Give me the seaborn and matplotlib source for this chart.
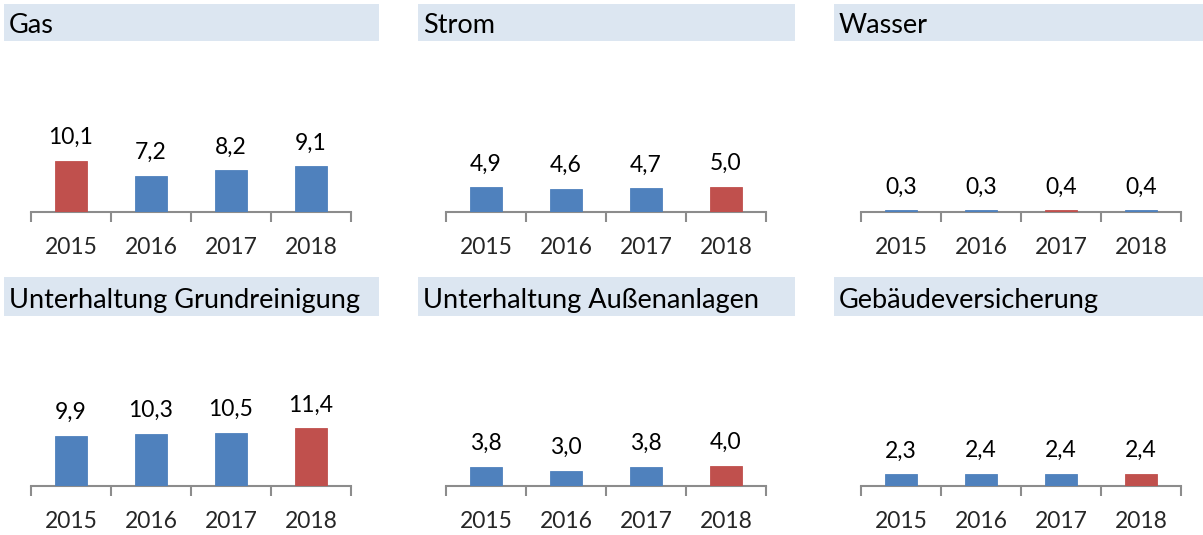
import numpy as np
import pandas as pd
import matplotlib.pyplot as plt
import seaborn as sns
from matplotlib.patches import Rectangle

# data
years = ['2015', '2016', '2017', '2018']
titles = ['Gas', 'Strom', 'Wasser',
          'Unterhaltung Grundreinigung', 'Unterhaltung Außenanlagen', 'Gebäudeversicherung']
gas = [10.1, 7.2, 8.2, 9.1]
strom = [4.9, 4.6, 4.7, 5.0]
wasser = [0.3, 0.3, 0.4, 0.4]
grundreinigung = [9.9, 10.3, 10.5, 11.4]
aussenanlagen = [3.8, 3.0, 3.8, 4.0]
versicherung = [2.3, 2.4, 2.4, 2.4]
highlight = ['2015', '2018', '2017', '2018', '2018', '2018']

series = [gas, strom, wasser, grundreinigung, aussenanlagen, versicherung]

BLUE = '#4f81bd'
RED = '#c0504d'
BAR_BG = '#dce6f1'
AXIS_GRAY = '#8c8c8c'

sns.set_style('white')
plt.rcParams['font.family'] = ['Lato', 'DejaVu Sans']

W, H = 1203, 535
fig = plt.figure(figsize=(W / 100, H / 100), dpi=100)

# pixel layout
axis_left = [31, 446, 861]
axis_width = 320
baseline = [212, 486]
axis_height = 152
title_x = [(4, 379), (418, 795), (834, 1203)]
title_y = [(4, 41), (277, 316)]
title_base = [33, 308]

for i, (title, vals, hl) in enumerate(zip(titles, series, highlight)):
    r, c = divmod(i, 3)
    ax = fig.add_axes([axis_left[c] / W, (H - baseline[r]) / H,
                       axis_width / W, axis_height / H])
    df = pd.DataFrame({'year': years, 'value': vals})
    pal = {y: (RED if y == hl else BLUE) for y in years}
    sns.barplot(data=df, x='year', y='value', hue='year', palette=pal,
                legend=False, width=0.4, saturation=1, ax=ax)
    for p in ax.patches:
        p.set_zorder(5)
        p.set_edgecolor(p.get_facecolor())
        p.set_linewidth(0.6)
    ax.set_ylim(0, 30)
    ax.set_xlim(-0.5, 3.5)
    for cont in ax.containers:
        ax.bar_label(cont, labels=[f'{v:.1f}'.replace('.', ',') for v in cont.datavalues],
                     padding=9, fontsize=16.5, color='black')
    ax.set_xlabel('')
    ax.set_ylabel('')
    ax.set_yticks([])
    ax.set_xticks(np.arange(-0.5, 4, 1))
    ax.set_xticklabels([])
    ax.set_xticks(range(4), minor=True)
    ax.set_xticklabels(years, minor=True, fontsize=16.5)
    ax.tick_params(axis='x', which='major', length=7, width=1.5, color=AXIS_GRAY, direction='out', bottom=True)
    ax.tick_params(axis='x', which='minor', length=0, pad=18)
    for s in ['top', 'left', 'right']:
        ax.spines[s].set_visible(False)
    ax.spines['bottom'].set_color(AXIS_GRAY)
    ax.spines['bottom'].set_linewidth(1.5)
    ax.spines['bottom'].set_zorder(1)
    ax.patch.set_alpha(0)

    # title bar
    x0, x1 = title_x[c]
    y0, y1 = title_y[r]
    fig.patches.append(Rectangle((x0 / W, (H - y1) / H), (x1 - x0) / W, (y1 - y0) / H,
                                 transform=fig.transFigure, facecolor=BAR_BG,
                                 edgecolor='none', zorder=0))
    fig.text((x0 + 5) / W, (H - title_base[r]) / H, title, fontsize=19.5,
             ha='left', va='baseline', color='black')

fig.savefig('out.png', dpi=100)
